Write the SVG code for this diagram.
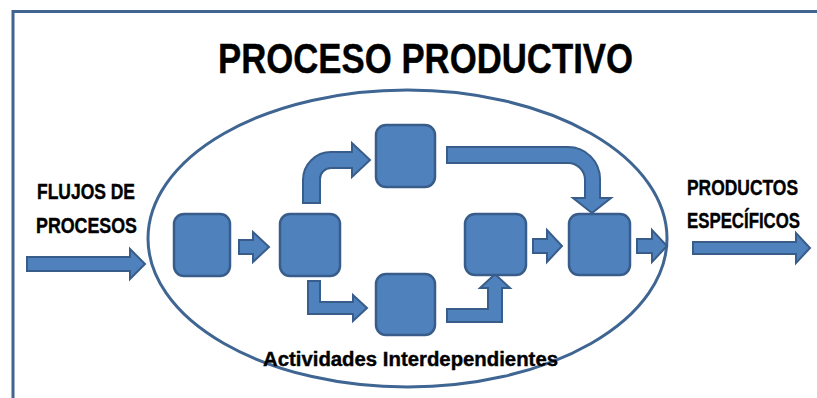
<svg xmlns="http://www.w3.org/2000/svg" width="817" height="398" viewBox="0 0 817 398">
<style>
.box{fill:#4f81bd;stroke:#385d8a;stroke-width:2.5}
.arr{fill:#4f81bd;stroke:#385d8a;stroke-width:2;stroke-linejoin:miter}
.lbl{font-family:"Liberation Sans",Arial,sans-serif;font-weight:bold;fill:#000;stroke:#000;stroke-width:0.4}
</style>
<rect width="817" height="398" fill="#fff"/>
<rect x="13" y="11.5" width="820" height="400" fill="none" stroke="#41658f" stroke-width="3"/>
<text class="lbl" x="218" y="73" font-size="42" textLength="415" lengthAdjust="spacingAndGlyphs">PROCESO PRODUCTIVO</text>
<ellipse cx="407.5" cy="238.5" rx="259.5" ry="148.5" fill="none" stroke="#3f6592" stroke-width="3"/>
<g id="labels">
<text class="lbl" x="37" y="199" font-size="21.5" textLength="98" lengthAdjust="spacingAndGlyphs">FLUJOS DE</text>
<text class="lbl" x="36" y="233" font-size="21.5" textLength="101" lengthAdjust="spacingAndGlyphs">PROCESOS</text>
<text class="lbl" x="687" y="195" font-size="21.5" textLength="111" lengthAdjust="spacingAndGlyphs">PRODUCTOS</text>
<text class="lbl" x="687" y="228" font-size="21.5" textLength="113" lengthAdjust="spacingAndGlyphs">ESPECÍFICOS</text>
<text class="lbl" x="263" y="366" font-size="20" textLength="295" lengthAdjust="spacingAndGlyphs">Actividades Interdependientes</text>
</g>
<g id="connectors">
<path class="arr" d="M27,257 H130 V249 L145,264 L130,279 V271 H27 Z"/>
<path class="arr" d="M239,240 H253 V232 L269,247 L253,262 V254 H239 Z"/>
<path class="arr" d="M303,203 V180 A28,28 0 0 1 331,152 H352 V143 L370,160 L352,177 V168 H331 A11,11 0 0 0 320,179 V203 Z"/>
<path class="arr" d="M308,281 H320 V302 H353 V295 L367,308 L353,321 V314 H308 Z"/>
<path class="arr" d="M447,309 H488 V288 H480 L495,274 L510,288 H502 V322 H447 Z"/>
<path class="arr" d="M447,147 H568 A32,32 0 0 1 600,179 V198 H611 L592,213 L573,198 H585 V180 A17,17 0 0 0 568,163 H447 Z"/>
<path class="arr" d="M533,239 H547 V230 L562,246 L547,262 V253 H533 Z"/>
<path class="arr" d="M637,239 H652 V230 L667,246 L652,262 V253 H637 Z"/>
<path class="arr" d="M693,242 H796 V233 L810,248 L796,263 V254 H693 Z"/>
</g>
<g id="box1"><rect class="box" x="174" y="214" width="56" height="62" rx="10"/></g>
<g id="box2"><rect class="box" x="280" y="214" width="60" height="62" rx="10"/></g>
<g id="box3"><rect class="box" x="376" y="125" width="59" height="62" rx="10"/></g>
<g id="box4"><rect class="box" x="376" y="274" width="59" height="61" rx="10"/></g>
<g id="box5"><rect class="box" x="465" y="214" width="61" height="61" rx="10"/></g>
<g id="box6"><rect class="box" x="569" y="214" width="61" height="61" rx="10"/></g>
</svg>
